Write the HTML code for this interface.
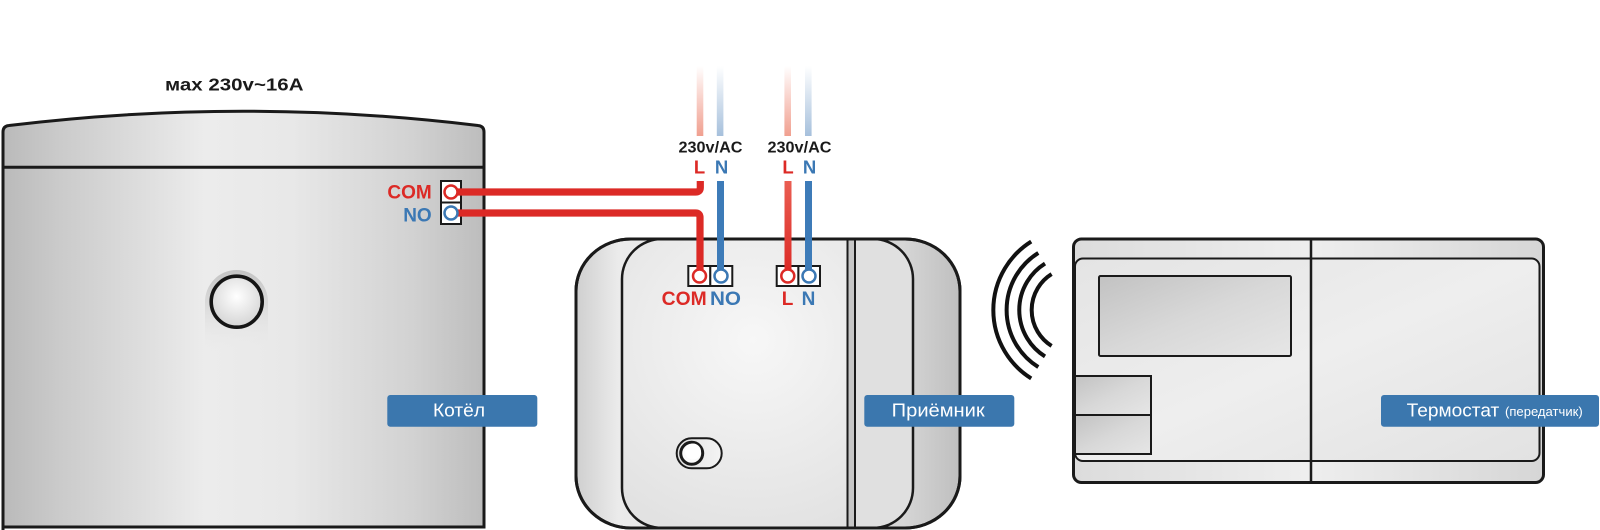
<!DOCTYPE html>
<html><head><meta charset="utf-8"><style>html,body{margin:0;padding:0;background:#fff;width:1600px;height:530px;overflow:hidden}svg{display:block}</style></head><body>
<svg width="1600" height="530" viewBox="0 0 1600 530" xmlns="http://www.w3.org/2000/svg">
<defs>
<linearGradient id="boil" x1="0" x2="1" y1="0" y2="0">
 <stop offset="0" stop-color="#bababa"/>
 <stop offset="0.12" stop-color="#cbcbcb"/>
 <stop offset="0.42" stop-color="#ececec"/>
 <stop offset="0.6" stop-color="#e8e8e8"/>
 <stop offset="0.85" stop-color="#d2d2d2"/>
 <stop offset="1" stop-color="#bdbdbd"/>
</linearGradient>
<linearGradient id="halo" x1="0" x2="0" y1="0" y2="1">
 <stop offset="0" stop-color="#c4c4c4"/>
 <stop offset="0.45" stop-color="#dcdcdc"/>
 <stop offset="1" stop-color="#ebebeb" stop-opacity="0"/>
</linearGradient>
<radialGradient id="knob" cx="0.5" cy="0.4" r="0.6">
 <stop offset="0" stop-color="#ffffff"/>
 <stop offset="1" stop-color="#d4d4d4"/>
</radialGradient>
<linearGradient id="rshell" x1="0" x2="1" y1="0" y2="0">
 <stop offset="0" stop-color="#cfcfcf"/>
 <stop offset="0.11" stop-color="#ebebeb"/>
 <stop offset="0.85" stop-color="#d6d6d6"/>
 <stop offset="1" stop-color="#bfbfbf"/>
</linearGradient>
<radialGradient id="rpanel" cx="0.45" cy="0.35" r="0.7">
 <stop offset="0" stop-color="#f7f7f7"/>
 <stop offset="1" stop-color="#e2e2e2"/>
</radialGradient>
<clipPath id="pclip"><rect x="622" y="239" width="291" height="289" rx="40" ry="40"/></clipPath>
<linearGradient id="fadeR" x1="0" x2="0" y1="0" y2="1">
 <stop offset="0" stop-color="#f29a8a" stop-opacity="0"/>
 <stop offset="1" stop-color="#f0a090" stop-opacity="1"/>
</linearGradient>
<linearGradient id="fadeB" x1="0" x2="0" y1="0" y2="1">
 <stop offset="0" stop-color="#a6c0dc" stop-opacity="0"/>
 <stop offset="1" stop-color="#a6c0dc" stop-opacity="1"/>
</linearGradient>
<linearGradient id="redL" x1="0" x2="0" y1="0" y2="1">
 <stop offset="0" stop-color="#ea5e52"/>
 <stop offset="1" stop-color="#dc2a26"/>
</linearGradient>
<linearGradient id="disp" x1="0" x2="1" y1="0" y2="1">
 <stop offset="0" stop-color="#c2c2c2"/>
 <stop offset="0.5" stop-color="#d8d8d8"/>
 <stop offset="1" stop-color="#e6e6e6"/>
</linearGradient>
<linearGradient id="tstrip" x1="0" x2="1" y1="0" y2="0">
 <stop offset="0" stop-color="#dcdcdc"/>
 <stop offset="0.5" stop-color="#eeeeee"/>
 <stop offset="1" stop-color="#d6d6d6"/>
</linearGradient>
<linearGradient id="tpanel" x1="0" x2="1" y1="0" y2="1">
 <stop offset="0" stop-color="#e4e4e4"/>
 <stop offset="0.5" stop-color="#eeeeee"/>
 <stop offset="1" stop-color="#e2e2e2"/>
</linearGradient>
<linearGradient id="sw" x1="0" x2="1" y1="0" y2="0">
 <stop offset="0" stop-color="#e0e0e0"/>
 <stop offset="1" stop-color="#f4f4f4"/>
</linearGradient>
</defs>

<!-- top label -->
<text x="165" y="90.7" font-family="Liberation Sans, Arial, sans-serif" font-weight="bold" font-size="17.5" fill="#1a1a1a" textLength="138.5" lengthAdjust="spacingAndGlyphs">мах 230v~16A</text>

<!-- Boiler -->
<path d="M3 530 V132 Q3 126 9 125.5 Q243 97 478 125.5 Q484 126 484 132 V527 H3 Z" fill="url(#boil)" stroke="#1a1a1a" stroke-width="3"/>
<line x1="3" y1="167.3" x2="484" y2="167.3" stroke="#1a1a1a" stroke-width="3"/>
<line x1="3" y1="527" x2="484" y2="527" stroke="#1a1a1a" stroke-width="3"/>
<!-- knob -->
<path d="M205 302 A31.5 32 0 0 1 268 302 V352 H205 Z" fill="url(#halo)"/>
<circle cx="236.7" cy="301.7" r="25.5" fill="url(#knob)" stroke="#151515" stroke-width="3.6"/>

<!-- boiler terminals -->
<rect x="441" y="181" width="20" height="21.5" fill="#fff" stroke="#1a1a1a" stroke-width="2"/>
<rect x="441" y="202.5" width="20" height="21.5" fill="#fff" stroke="#1a1a1a" stroke-width="2"/>
<text x="431.7" y="198.5" text-anchor="end" font-family="Liberation Sans, Arial, sans-serif" font-weight="bold" font-size="19" fill="#dc2a26">COM</text>
<text x="431.7" y="221.5" text-anchor="end" font-family="Liberation Sans, Arial, sans-serif" font-weight="bold" font-size="19" fill="#3b78b4">NO</text>

<!-- top faded wires -->
<rect x="696.7" y="66" width="6.6" height="70" fill="url(#fadeR)"/>
<rect x="716.8" y="66" width="6.6" height="70" fill="url(#fadeB)"/>
<rect x="784.4" y="66" width="6.6" height="70" fill="url(#fadeR)"/>
<rect x="805" y="66" width="6.6" height="70" fill="url(#fadeB)"/>

<text x="710.5" y="152.5" text-anchor="middle" font-family="Liberation Sans, Arial, sans-serif" font-weight="bold" font-size="16" fill="#1a1a1a" textLength="64" lengthAdjust="spacingAndGlyphs">230v/AC</text>
<text x="799.5" y="152.5" text-anchor="middle" font-family="Liberation Sans, Arial, sans-serif" font-weight="bold" font-size="16" fill="#1a1a1a" textLength="64" lengthAdjust="spacingAndGlyphs">230v/AC</text>
<text x="699.5" y="173.3" text-anchor="middle" font-family="Liberation Sans, Arial, sans-serif" font-weight="bold" font-size="18.5" fill="#dc2a26">L</text>
<text x="721.5" y="173.3" text-anchor="middle" font-family="Liberation Sans, Arial, sans-serif" font-weight="bold" font-size="18.5" fill="#3b78b4">N</text>
<text x="788" y="173.3" text-anchor="middle" font-family="Liberation Sans, Arial, sans-serif" font-weight="bold" font-size="18.5" fill="#dc2a26">L</text>
<text x="809.5" y="173.3" text-anchor="middle" font-family="Liberation Sans, Arial, sans-serif" font-weight="bold" font-size="18.5" fill="#3b78b4">N</text>

<!-- Receiver -->
<rect x="576" y="239" width="384" height="289" rx="55" ry="52" fill="url(#rshell)" stroke="#1a1a1a" stroke-width="3"/>
<rect x="622" y="239" width="291" height="289" rx="40" ry="40" fill="url(#rpanel)"/>
<g clip-path="url(#pclip)">
 <rect x="855" y="239" width="60" height="290" fill="#e0e0e0"/>
 <rect x="847.5" y="239" width="7.5" height="290" fill="#c6c6c6"/>
</g>
<rect x="622" y="239" width="291" height="289" rx="40" ry="40" fill="none" stroke="#1a1a1a" stroke-width="2.5"/>
<line x1="847.5" y1="239" x2="847.5" y2="528" stroke="#1a1a1a" stroke-width="2"/>
<line x1="855" y1="239" x2="855" y2="528" stroke="#1a1a1a" stroke-width="2"/>
<rect x="576" y="239" width="384" height="289" rx="55" ry="52" fill="none" stroke="#1a1a1a" stroke-width="3"/>

<!-- switch -->
<rect x="676.7" y="438.3" width="45" height="30" rx="15" ry="15" fill="url(#sw)" stroke="#1a1a1a" stroke-width="2"/>
<circle cx="691.7" cy="453.3" r="11" fill="#fafafa" stroke="#1a1a1a" stroke-width="3"/>
<circle cx="693" cy="451.5" r="8" fill="#ffffff"/>

<!-- receiver terminals -->
<rect x="688.3" y="266" width="22" height="20" fill="#fff" stroke="#1a1a1a" stroke-width="2"/>
<rect x="710.3" y="266" width="22" height="20" fill="#fff" stroke="#1a1a1a" stroke-width="2"/>
<rect x="776.7" y="266" width="21.7" height="20" fill="#fff" stroke="#1a1a1a" stroke-width="2"/>
<rect x="798.4" y="266" width="21.6" height="20" fill="#fff" stroke="#1a1a1a" stroke-width="2"/>

<!-- wires -->
<path d="M457 192 H695.5 Q700.3 192 700.3 187.5 V181" fill="none" stroke="#dc2a26" stroke-width="7.2"/>
<path d="M457 213 H695.5 Q700 213 700 217.5 V272" fill="none" stroke="#dc2a26" stroke-width="7.2"/>
<line x1="720.5" y1="181" x2="720.5" y2="272" stroke="#3d7bb8" stroke-width="7"/>
<rect x="784.5" y="181" width="7" height="91" fill="url(#redL)"/>
<line x1="808.5" y1="181" x2="808.5" y2="272" stroke="#3d7bb8" stroke-width="7"/>

<!-- circles -->
<circle cx="451" cy="192" r="6.5" fill="#fff" stroke="#dc2a26" stroke-width="2.5"/>
<circle cx="451" cy="213" r="6.5" fill="#fff" stroke="#3b78b4" stroke-width="2.5"/>
<circle cx="699.5" cy="276" r="6.5" fill="#fff" stroke="#dc2a26" stroke-width="2.5"/>
<circle cx="721" cy="276" r="6.5" fill="#fff" stroke="#3b78b4" stroke-width="2.5"/>
<circle cx="787.8" cy="276" r="6.5" fill="#fff" stroke="#dc2a26" stroke-width="2.5"/>
<circle cx="809" cy="276" r="6.5" fill="#fff" stroke="#3b78b4" stroke-width="2.5"/>

<text x="661.7" y="305" font-family="Liberation Sans, Arial, sans-serif" font-weight="bold" font-size="19" fill="#dc2a26" textLength="45" lengthAdjust="spacingAndGlyphs">COM</text>
<text x="710" y="305" font-family="Liberation Sans, Arial, sans-serif" font-weight="bold" font-size="19" fill="#3b78b4" textLength="31" lengthAdjust="spacingAndGlyphs">NO</text>
<text x="787.5" y="305" text-anchor="middle" font-family="Liberation Sans, Arial, sans-serif" font-weight="bold" font-size="19" fill="#dc2a26">L</text>
<text x="808.5" y="305" text-anchor="middle" font-family="Liberation Sans, Arial, sans-serif" font-weight="bold" font-size="19" fill="#3b78b4">N</text>

<!-- antenna waves -->
<g fill="none" stroke="#111" stroke-width="4">
 <path d="M1031.2 241.6 A80.7 80.7 0 0 0 1031.2 378.4"/>
 <path d="M1038.3 252.9 A67.3 67.3 0 0 0 1038.3 367.1"/>
 <path d="M1045 263.6 A54.7 54.7 0 0 0 1045 356.4"/>
 <path d="M1051.6 274.1 A42.3 42.3 0 0 0 1051.6 345.9"/>
</g>

<!-- Thermostat -->
<rect x="1073.5" y="239" width="470" height="243.5" rx="8" ry="8" fill="url(#tstrip)" stroke="#1a1a1a" stroke-width="3"/>
<rect x="1075" y="258.5" width="464.5" height="202.5" rx="8" ry="8" fill="url(#tpanel)" stroke="#1a1a1a" stroke-width="2"/>
<line x1="1311" y1="239" x2="1311" y2="482" stroke="#1a1a1a" stroke-width="2.5"/>
<rect x="1099" y="276" width="192" height="80" rx="1.5" fill="url(#disp)" stroke="#1a1a1a" stroke-width="2"/>
<rect x="1075" y="376" width="76" height="39" fill="url(#disp)" stroke="#1a1a1a" stroke-width="2"/>
<rect x="1075" y="415" width="76" height="39" fill="url(#disp)" stroke="#1a1a1a" stroke-width="2"/>

<!-- label boxes -->
<rect x="387.3" y="395" width="150" height="31.7" rx="3" fill="#3b77ae"/>
<text x="433" y="416.7" font-family="Liberation Sans, Arial, sans-serif" font-size="18.5" fill="#fff" textLength="52" lengthAdjust="spacingAndGlyphs">Котёл</text>
<rect x="864.3" y="395" width="150" height="31.7" rx="3" fill="#3b77ae"/>
<text x="891.7" y="416.7" font-family="Liberation Sans, Arial, sans-serif" font-size="18.5" fill="#fff" textLength="93" lengthAdjust="spacingAndGlyphs">Приёмник</text>
<rect x="1381" y="395" width="218" height="31.7" rx="3" fill="#3b77ae"/>
<text x="1406.7" y="416.7" font-family="Liberation Sans, Arial, sans-serif" font-size="18.5" fill="#fff" textLength="92.6" lengthAdjust="spacingAndGlyphs">Термостат</text>
<text x="1505" y="416.2" font-family="Liberation Sans, Arial, sans-serif" font-size="12.5" fill="#fff" textLength="77.7" lengthAdjust="spacingAndGlyphs">(передатчик)</text>
</svg>
</body></html>
